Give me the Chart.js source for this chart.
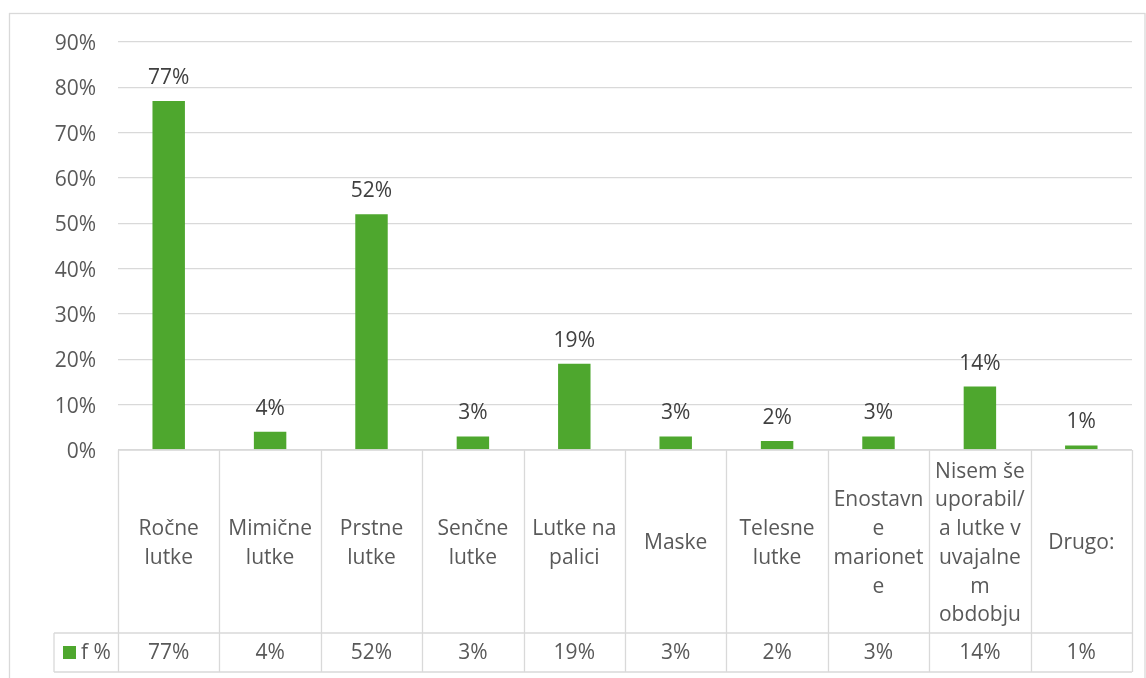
<!DOCTYPE html>
<html>
<head>
<meta charset="utf-8">
<script src="https://cdn.jsdelivr.net/npm/chart.js@4"></script>
<style>
  html, body { margin: 0; padding: 0; background: #fff; }
  #wrap { width: 1146px; height: 678px; }
</style>
</head>
<body>
<div id="wrap"><canvas id="bar-chart" width="1146" height="678"></canvas></div>
<script>
// categories, each split into the lines shown in the table cells
const categories = [
  ['Ročne', 'lutke'],
  ['Mimične', 'lutke'],
  ['Prstne', 'lutke'],
  ['Senčne', 'lutke'],
  ['Lutke na', 'palici'],
  ['Maske'],
  ['Telesne', 'lutke'],
  ['Enostavn', 'e', 'marionet', 'e'],
  ['Nisem še', 'uporabil/', 'a lutke v', 'uvajalne', 'm', 'obdobju'],
  ['Drugo:']
];
const seriesName = 'f %';
const values = [77, 4, 52, 3, 19, 3, 2, 3, 14, 1];
const yTicks = [0, 10, 20, 30, 40, 50, 60, 70, 80, 90];

// colors
let green = '#4EA72E';
let grey = '#D9D9D9';
let textGrey = '#595959';
let labelGrey = '#404040';
const FONT = '21px "Open Sans"';

// frame + data labels + data table under the plot
const tablePlugin = {
  id: 'tablePlugin',
  afterDraw(chart) {
    const ctx = chart.ctx;
    const x = chart.scales.x;
    const area = chart.chartArea;
    const rowTop = area.bottom;
    const rowMid = rowTop + 183;
    const rowEnd = rowMid + 39;
    const legendLeft = 54;
    const colW = (area.right - area.left) / categories.length;

    ctx.save();
    // outer frame
    ctx.strokeStyle = grey;
    ctx.lineWidth = 1.3;
    ctx.strokeRect(9.5, 13.5, 1135.5, 700);

    // table lines
    ctx.beginPath();
    ctx.moveTo(area.left, rowTop); ctx.lineTo(area.right, rowTop);
    ctx.moveTo(legendLeft, rowMid); ctx.lineTo(area.right, rowMid);
    ctx.moveTo(legendLeft, rowEnd); ctx.lineTo(area.right, rowEnd);
    ctx.moveTo(legendLeft, rowMid); ctx.lineTo(legendLeft, rowEnd);
    for (let i = 0; i <= categories.length; i++) {
      const lx = Math.round(area.left + i * colW) + 0.5;
      ctx.moveTo(lx, rowTop); ctx.lineTo(lx, rowEnd);
    }
    ctx.stroke();

    ctx.font = FONT;
    ctx.fillStyle = textGrey;
    ctx.textAlign = 'center';
    ctx.textBaseline = 'middle';
    const lineH = 28.7;
    categories.forEach((lines, i) => {
      const cx = x.getPixelForValue(i);
      const cy = (rowTop + rowMid) / 2 + 2;
      const y0 = cy - (lines.length - 1) * lineH / 2;
      lines.forEach((t, j) => ctx.fillText(t, cx, y0 + j * lineH));
      ctx.fillText(values[i] + '%', cx, (rowMid + rowEnd) / 2 + 1);
    });

    // legend key
    ctx.fillStyle = green;
    ctx.fillRect(63, 646, 13, 13);
    ctx.fillStyle = textGrey;
    ctx.textAlign = 'left';
    ctx.fillText(seriesName, 81, (rowMid + rowEnd) / 2 + 1);

    // labels above bars
    const meta = chart.getDatasetMeta(0);
    ctx.fillStyle = labelGrey;
    ctx.textAlign = 'center';
    meta.data.forEach((bar, i) => {
      ctx.fillText(values[i] + '%', bar.x, bar.y - 23);
    });
    ctx.restore();
  }
};

const barChart = new Chart(document.getElementById('bar-chart'), {
  type: 'bar',
  data: {
    labels: categories.map(c => c.join(' ')),
    datasets: [{
      label: seriesName,
      data: values,
      backgroundColor: green,
      categoryPercentage: 1,
      barPercentage: 0.32
    }]
  },
  options: {
    responsive: false,
    animation: false,
    layout: { padding: { top: 42, right: 14, bottom: 228, left: 0 } },
    plugins: {
      legend: { display: false },
      tooltip: { enabled: false }
    },
    scales: {
      x: {
        display: false,
        grid: { display: false }
      },
      y: {
        min: 0,
        max: 90,
        afterBuildTicks: (scale) => { scale.ticks = yTicks.map(v => ({ value: v })); },
        afterFit: (scale) => { scale.width = 118; },
        border: { display: false },
        grid: { color: grey, lineWidth: 1.3, drawTicks: false },
        ticks: {
          padding: 22,
          labelOffset: 2,
          color: textGrey,
          font: { family: 'Open Sans', size: 21 },
          callback: (v) => v + '%'
        }
      }
    }
  },
  plugins: [tablePlugin]
});
</script>
</body>
</html>
